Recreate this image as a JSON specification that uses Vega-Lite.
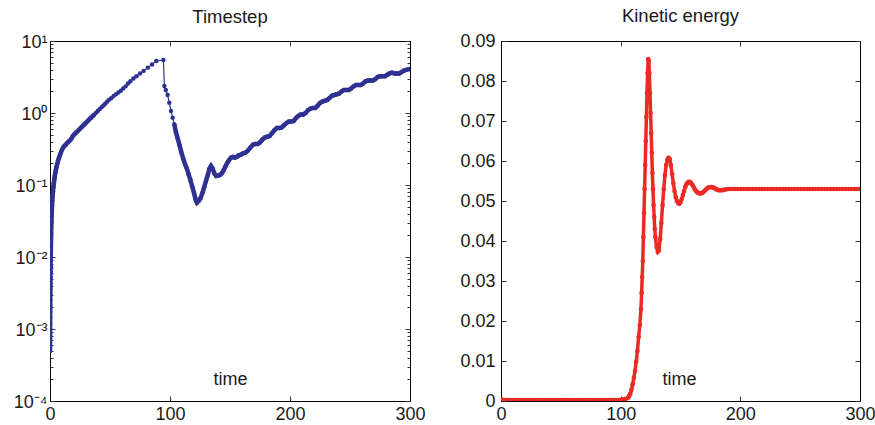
{
  "$schema": "https://vega.github.io/schema/vega-lite/v6.json",
  "background": "white",
  "padding": {"left": 4, "top": 6, "right": 0, "bottom": 0},
  "spacing": 29,
  "config": {
    "font": "Liberation Sans",
    "view": {"stroke": "#000", "strokeWidth": 1},
    "title": {"fontSize": 18.5, "fontWeight": "normal", "color": "#1a1a1a", "offset": 7, "font": "Liberation Sans"},
    "axis": {"labelFont": "Liberation Sans", "labelFontSize": 18, "labelColor": "#1a1a1a", "domainColor": "#000", "tickColor": "#333", "grid": false, "titleFont": "Liberation Sans", "titleFontSize": 18, "titleFontWeight": "normal", "titleColor": "#1a1a1a"}
  },
  "datasets": {
    "ts": [
      {"t":0,"v":0.00049},{"t":0.02,"v":0.00058},{"t":0.04,"v":0.0007},{"t":0.06,"v":0.00085},{"t":0.08,"v":0.001},{"t":0.1,"v":0.0012},{"t":0.13,"v":0.00145},{"t":0.16,"v":0.00175},{"t":0.19,"v":0.0021},{"t":0.22,"v":0.0025},{"t":0.26,"v":0.003},{"t":0.3,"v":0.0036},{"t":0.35,"v":0.0043},{"t":0.4,"v":0.0052},{"t":0.45,"v":0.0062},{"t":0.5,"v":0.0074},{"t":0.56,"v":0.0089},{"t":0.62,"v":0.0106},{"t":0.7,"v":0.0127},{"t":0.78,"v":0.0151},{"t":0.86,"v":0.018},{"t":0.95,"v":0.0215},{"t":1.05,"v":0.0257},{"t":1.2,"v":0.031},{"t":1.35,"v":0.037},{"t":1.5,"v":0.044},{"t":1.7,"v":0.052},{"t":1.9,"v":0.061},{"t":2.2,"v":0.071},{"t":2.5,"v":0.082},{"t":2.8,"v":0.093},{"t":3.2,"v":0.106},{"t":3.6,"v":0.12},{"t":4.0,"v":0.134},{"t":4.5,"v":0.149},{"t":5.0,"v":0.165},{"t":5.5,"v":0.181},{"t":6.0,"v":0.196},{"t":6.7,"v":0.216},{"t":7.4,"v":0.236},{"t":8.2,"v":0.257},{"t":9.0,"v":0.28},{"t":10,"v":0.309},{"t":11,"v":0.331},{"t":12,"v":0.347},{"t":13,"v":0.363},{"t":14.5,"v":0.385},{"t":16,"v":0.407},{"t":17.5,"v":0.432},{"t":19,"v":0.479},{"t":20.5,"v":0.509},{"t":22,"v":0.54},{"t":23.5,"v":0.571},{"t":25,"v":0.605},{"t":26.5,"v":0.641},{"t":28,"v":0.679},{"t":29.5,"v":0.719},{"t":31,"v":0.762},{"t":32.5,"v":0.807},{"t":34,"v":0.855},{"t":35.5,"v":0.904},{"t":37,"v":0.955},{"t":38.5,"v":1.012},{"t":40,"v":1.072},{"t":41.5,"v":1.135},{"t":43,"v":1.202},{"t":44.5,"v":1.274},{"t":46,"v":1.349},{"t":47.5,"v":1.429},{"t":49,"v":1.514},{"t":51,"v":1.603},{"t":53,"v":1.718},{"t":55,"v":1.82},{"t":57,"v":1.928},{"t":59,"v":2.042},{"t":61,"v":2.188},{"t":63,"v":2.344},{"t":65,"v":2.57},{"t":67,"v":2.754},{"t":69.5,"v":3.02},{"t":72,"v":3.236},{"t":75,"v":3.548},{"t":78,"v":3.846},{"t":81.5,"v":4.266},{"t":85,"v":4.732},{"t":88.6,"v":5.272},{"t":94.5,"v":5.445},
      {"t":95.3,"v":2.371},{"t":96.5,"v":2.089},{"t":98,"v":1.778},{"t":99.4,"v":1.39},{"t":100.8,"v":1.067},{"t":102.2,"v":0.861},{"t":103.6,"v":0.697},{"t":105,"v":0.537},{"t":106.5,"v":0.437},{"t":108,"v":0.355},{"t":109.5,"v":0.282},{"t":111,"v":0.234},{"t":112.5,"v":0.195},{"t":114,"v":0.17},{"t":115.5,"v":0.141},{"t":117,"v":0.117},{"t":118.5,"v":0.0955},{"t":120,"v":0.0776},{"t":121.3,"v":0.0631},{"t":122.5,"v":0.0569},{"t":124,"v":0.0603},{"t":125.5,"v":0.0661},{"t":127,"v":0.0776},{"t":128.5,"v":0.0933},{"t":130,"v":0.1138},{"t":131.5,"v":0.138},{"t":133,"v":0.17},{"t":134.2,"v":0.1837},{"t":135.5,"v":0.17},{"t":137,"v":0.1445},{"t":138.5,"v":0.1334},{"t":140,"v":0.1349},{"t":141.5,"v":0.138},{"t":143,"v":0.1445},{"t":144.5,"v":0.158},{"t":146,"v":0.178},{"t":147.5,"v":0.2},{"t":149,"v":0.219},{"t":150.8,"v":0.24},{"t":152.5,"v":0.245},{"t":154,"v":0.24},{"t":155.5,"v":0.245},{"t":157,"v":0.257},
      {"t":159,"v":0.263},{"t":161,"v":0.275},{"t":163,"v":0.282},{"t":165,"v":0.302},{"t":167,"v":0.331},{"t":169,"v":0.363},{"t":171,"v":0.372},{"t":173,"v":0.372},{"t":175,"v":0.389},{"t":177,"v":0.427},{"t":179,"v":0.457},{"t":181,"v":0.468},{"t":183,"v":0.479},{"t":185,"v":0.525},{"t":187,"v":0.575},{"t":189,"v":0.617},{"t":191,"v":0.617},{"t":193,"v":0.631},{"t":195,"v":0.676},{"t":197,"v":0.724},{"t":199,"v":0.759},{"t":201,"v":0.759},{"t":203,"v":0.776},{"t":205,"v":0.851},{"t":207,"v":0.912},{"t":209,"v":0.955},{"t":211,"v":0.955},{"t":213,"v":1.0},{"t":215,"v":1.096},{"t":217,"v":1.148},{"t":219,"v":1.175},{"t":221,"v":1.175},{"t":223,"v":1.259},{"t":225,"v":1.38},{"t":227,"v":1.445},{"t":229,"v":1.479},{"t":231,"v":1.514},{"t":233,"v":1.622},{"t":235,"v":1.738},{"t":237,"v":1.778},{"t":239,"v":1.82},{"t":241,"v":1.862},{"t":243,"v":1.995},{"t":245,"v":2.089},{"t":247,"v":2.089},{"t":249,"v":2.089},{"t":251,"v":2.188},{"t":253,"v":2.344},{"t":255,"v":2.455},{"t":257,"v":2.455},{"t":259,"v":2.455},{"t":261,"v":2.57},{"t":263,"v":2.754},{"t":265,"v":2.818},{"t":267,"v":2.818},{"t":269,"v":2.818},{"t":271,"v":2.951},{"t":273,"v":3.162},{"t":275,"v":3.236},{"t":277,"v":3.236},{"t":279,"v":3.236},{"t":281,"v":3.388},{"t":283,"v":3.548},{"t":285,"v":3.631},{"t":287,"v":3.548},{"t":289,"v":3.548},{"t":291,"v":3.548},{"t":293,"v":3.715},{"t":295,"v":3.89},{"t":297,"v":3.981},{"t":299.5,"v":4.074}
    ],
    "ke": [
      {"t":0,"v":0.0005},{"t":0.5,"v":0.0003},{"t":1,"v":0.0002},{"t":2.5,"v":0.0002},{"t":5,"v":0.0002},{"t":7.5,"v":0.0002},{"t":10,"v":0.0002},{"t":12.5,"v":0.0002},{"t":15,"v":0.0002},{"t":17.5,"v":0.0002},{"t":20,"v":0.0002},{"t":22.5,"v":0.0002},{"t":25,"v":0.0002},{"t":27.5,"v":0.0002},{"t":30,"v":0.0002},{"t":32.5,"v":0.0002},{"t":35,"v":0.0002},{"t":37.5,"v":0.0002},{"t":40,"v":0.0002},{"t":42.5,"v":0.0002},{"t":45,"v":0.0002},{"t":47.5,"v":0.0002},{"t":50,"v":0.0002},{"t":52.5,"v":0.0002},{"t":55,"v":0.0002},{"t":57.5,"v":0.0002},{"t":60,"v":0.0002},{"t":62.5,"v":0.0002},{"t":65,"v":0.0002},{"t":67.5,"v":0.0002},{"t":70,"v":0.0002},{"t":72.5,"v":0.0002},{"t":75,"v":0.0002},{"t":77.5,"v":0.0002},{"t":80,"v":0.0002},{"t":82.5,"v":0.0002},{"t":85,"v":0.0002},{"t":87.5,"v":0.0002},{"t":90,"v":0.0002},{"t":92.5,"v":0.0002},{"t":95,"v":0.0002},{"t":97.5,"v":0.0002},{"t":100,"v":0.0003},
      {"t":102,"v":0.0004},{"t":104,"v":0.0005},{"t":106,"v":0.0008},{"t":107,"v":0.0012},{"t":108,"v":0.0018},{"t":109,"v":0.0028},{"t":110,"v":0.0042},{"t":111,"v":0.0058},{"t":112,"v":0.0075},{"t":113,"v":0.0098},{"t":114,"v":0.0125},{"t":115,"v":0.016},{"t":116,"v":0.019},{"t":117,"v":0.023},{"t":117.5,"v":0.027},{"t":118,"v":0.031},{"t":118.5,"v":0.035},{"t":119,"v":0.041},{"t":119.5,"v":0.047},{"t":120,"v":0.053},{"t":120.5,"v":0.059},{"t":121,"v":0.065},{"t":121.5,"v":0.071},{"t":122,"v":0.077},{"t":122.5,"v":0.082},{"t":123,"v":0.0855},{"t":123.5,"v":0.085},{"t":124,"v":0.082},{"t":124.5,"v":0.077},{"t":125,"v":0.072},{"t":125.5,"v":0.067},{"t":126,"v":0.062},{"t":126.5,"v":0.057},{"t":127,"v":0.053},{"t":127.5,"v":0.049},{"t":128,"v":0.046},{"t":128.5,"v":0.043},{"t":129,"v":0.041},{"t":130,"v":0.0385},{"t":131,"v":0.0373},{"t":132,"v":0.0377},{"t":133,"v":0.0405},{"t":134,"v":0.0445},{"t":135,"v":0.049},{"t":136,"v":0.053},{"t":137,"v":0.0565},{"t":138,"v":0.059},{"t":139,"v":0.0603},{"t":140,"v":0.0608},{"t":141,"v":0.0605},{"t":142,"v":0.059},{"t":143,"v":0.0567},{"t":144,"v":0.0545},{"t":145,"v":0.0525},{"t":146,"v":0.051},{"t":147,"v":0.05},{"t":148,"v":0.0495},{"t":149,"v":0.0493},{"t":150,"v":0.0497},{"t":151,"v":0.0505},{"t":152,"v":0.0515},{"t":153,"v":0.0525},{"t":154,"v":0.0535},{"t":155,"v":0.0542},{"t":156,"v":0.0546},{"t":157,"v":0.0548},{"t":158,"v":0.0547},{"t":159,"v":0.0544},{"t":160,"v":0.054},{"t":161,"v":0.0535},{"t":162,"v":0.0529},{"t":163,"v":0.0525},{"t":164,"v":0.0522},{"t":165,"v":0.052},{"t":166,"v":0.0519},{"t":167,"v":0.0519},{"t":168,"v":0.052},{"t":169,"v":0.0522},{"t":170,"v":0.0525},{"t":171,"v":0.0528},{"t":172,"v":0.0531},{"t":173,"v":0.0533},{"t":174,"v":0.0534},{"t":175,"v":0.0535},{"t":176,"v":0.0535},{"t":177,"v":0.0534},{"t":178,"v":0.0533},{"t":179,"v":0.0531},{"t":180,"v":0.0529},{"t":181,"v":0.0528},{"t":182,"v":0.0527},{"t":183,"v":0.0527},{"t":184,"v":0.0527},{"t":185,"v":0.0527},{"t":186,"v":0.0528},{"t":188,"v":0.0529},{"t":190,"v":0.053},{"t":192,"v":0.053},{"t":194,"v":0.053},{"t":196,"v":0.053},{"t":198,"v":0.053},{"t":200.5,"v":0.053},{"t":203,"v":0.053},{"t":205.5,"v":0.053},{"t":208,"v":0.053},{"t":210.5,"v":0.053},{"t":213,"v":0.053},{"t":215.5,"v":0.053},{"t":218,"v":0.053},{"t":220.5,"v":0.053},{"t":223,"v":0.053},{"t":225.5,"v":0.053},{"t":228,"v":0.053},{"t":230.5,"v":0.053},{"t":233,"v":0.053},{"t":235.5,"v":0.053},{"t":238,"v":0.053},{"t":240.5,"v":0.053},{"t":243,"v":0.053},{"t":245.5,"v":0.053},{"t":248,"v":0.053},{"t":250.5,"v":0.053},{"t":253,"v":0.053},{"t":255.5,"v":0.053},{"t":258,"v":0.053},{"t":260.5,"v":0.053},{"t":263,"v":0.053},{"t":265.5,"v":0.053},{"t":268,"v":0.053},{"t":270.5,"v":0.053},{"t":273,"v":0.053},{"t":275.5,"v":0.053},{"t":278,"v":0.053},{"t":280.5,"v":0.053},{"t":283,"v":0.053},{"t":285.5,"v":0.053},{"t":288,"v":0.053},{"t":290.5,"v":0.053},{"t":293,"v":0.053},{"t":295.5,"v":0.053},{"t":298,"v":0.053},{"t":300,"v":0.053}
    ]
  },
  "hconcat": [
    {
      "width": 360, "height": 360,
      "title": "Timestep",
      "data": {"name": "ts"},
      "layer": [
        {
          "mark": {"type": "line", "color": "#2e3192", "strokeWidth": 1.2, "clip": true, "point": {"filled": true, "size": 20, "color": "#2e3192"}},
          "encoding": {
            "x": {"field": "t", "type": "quantitative", "scale": {"domain": [0, 300], "nice": false},
              "axis": {"values": [0, 100, 200, 300], "tickSize": -5, "labelPadding": 9, "labelFlush": false, "title": "time", "titleX": 180, "titleY": -17, "titleBaseline": "alphabetic"}},
            "y": {"field": "v", "type": "quantitative", "scale": {"type": "log", "domain": [0.0001, 10], "nice": false},
              "axis": {"title": null, "minExtent": 45, "maxExtent": 45, "labelPadding": 8, "labelOffset": 1,
                "values": [0.0001,0.0002,0.0003,0.0004,0.0005,0.0006,0.0007,0.0008,0.0009,0.001,0.002,0.003,0.004,0.005,0.006,0.007,0.008,0.009,0.01,0.02,0.03,0.04,0.05,0.06,0.07,0.08,0.09,0.1,0.2,0.3,0.4,0.5,0.6,0.7,0.8,0.9,1,2,3,4,5,6,7,8,9,10],
                "labelExpr": "abs(log(datum.value)/LN10 - round(log(datum.value)/LN10)) > 0.001 ? '' : ['10⁻⁴','10⁻³','10⁻²','10⁻¹','10⁰','10¹'][round(log(datum.value)/LN10)+4]",
                "tickSize": {"condition": {"test": "abs(log(datum.value)/LN10 - round(log(datum.value)/LN10)) < 0.001", "value": -5}, "value": -3}}}
          }
        },
        {
          "transform": [{"filter": "datum.t < 38"}],
          "mark": {"type": "line", "color": "#2e3192", "strokeWidth": 4.5, "clip": true},
          "encoding": {
            "x": {"field": "t", "type": "quantitative", "axis": null},
            "y": {"field": "v", "type": "quantitative", "axis": null}
          }
        },
        {
          "transform": [{"filter": "datum.t > 103"}],
          "mark": {"type": "line", "color": "#2e3192", "strokeWidth": 4.5, "clip": true},
          "encoding": {
            "x": {"field": "t", "type": "quantitative", "axis": null},
            "y": {"field": "v", "type": "quantitative", "axis": null}
          }
        },
        {
          "mark": {"type": "point", "opacity": 0},
          "encoding": {
            "x": {"field": "t", "type": "quantitative", "scale": {"domain": [0, 300], "nice": false},
              "axis": {"orient": "top", "values": [0, 100, 200, 300], "tickSize": -5, "labels": false, "title": null, "minExtent": 0, "maxExtent": 0}},
            "y": {"field": "v", "type": "quantitative", "scale": {"type": "log", "domain": [0.0001, 10], "nice": false},
              "axis": {"orient": "right", "title": null, "labels": false, "minExtent": 0, "maxExtent": 0,
                "values": [0.0001,0.0002,0.0003,0.0004,0.0005,0.0006,0.0007,0.0008,0.0009,0.001,0.002,0.003,0.004,0.005,0.006,0.007,0.008,0.009,0.01,0.02,0.03,0.04,0.05,0.06,0.07,0.08,0.09,0.1,0.2,0.3,0.4,0.5,0.6,0.7,0.8,0.9,1,2,3,4,5,6,7,8,9,10],
                "tickSize": {"condition": {"test": "abs(log(datum.value)/LN10 - round(log(datum.value)/LN10)) < 0.001", "value": -5}, "value": -3}}}
          }
        }
      ],
      "resolve": {"axis": {"x": "independent", "y": "independent"}}
    },
    {
      "width": 359, "height": 360,
      "title": "Kinetic energy",
      "data": {"name": "ke"},
      "layer": [
        {
          "mark": {"type": "line", "color": "#ec2a24", "strokeWidth": 3.5, "clip": true, "point": {"filled": true, "size": 22, "color": "#ec2a24"}},
          "encoding": {
            "x": {"field": "t", "type": "quantitative", "scale": {"domain": [0, 300], "nice": false},
              "axis": {"values": [0, 100, 200, 300], "tickSize": -5, "labelPadding": 9, "labelFlush": false, "title": "time", "titleX": 178, "titleY": -17, "titleBaseline": "alphabetic"}},
            "y": {"field": "v", "type": "quantitative", "scale": {"domain": [0, 0.09], "nice": false},
              "axis": {"title": null, "minExtent": 45, "maxExtent": 45, "labelPadding": 11, "format": ".2~f", "values": [0,0.01,0.02,0.03,0.04,0.05,0.06,0.07,0.08,0.09], "tickSize": -5}}
          }
        },
        {
          "mark": {"type": "point", "opacity": 0},
          "encoding": {
            "x": {"field": "t", "type": "quantitative", "scale": {"domain": [0, 300], "nice": false},
              "axis": {"orient": "top", "values": [0, 100, 200, 300], "tickSize": -5, "labels": false, "title": null, "minExtent": 0, "maxExtent": 0}},
            "y": {"field": "v", "type": "quantitative", "scale": {"domain": [0, 0.09], "nice": false},
              "axis": {"orient": "right", "title": null, "labels": false, "minExtent": 0, "maxExtent": 0, "values": [0,0.01,0.02,0.03,0.04,0.05,0.06,0.07,0.08,0.09], "tickSize": -5}}
          }
        }
      ],
      "resolve": {"axis": {"x": "independent", "y": "independent"}}
    }
  ]
}
